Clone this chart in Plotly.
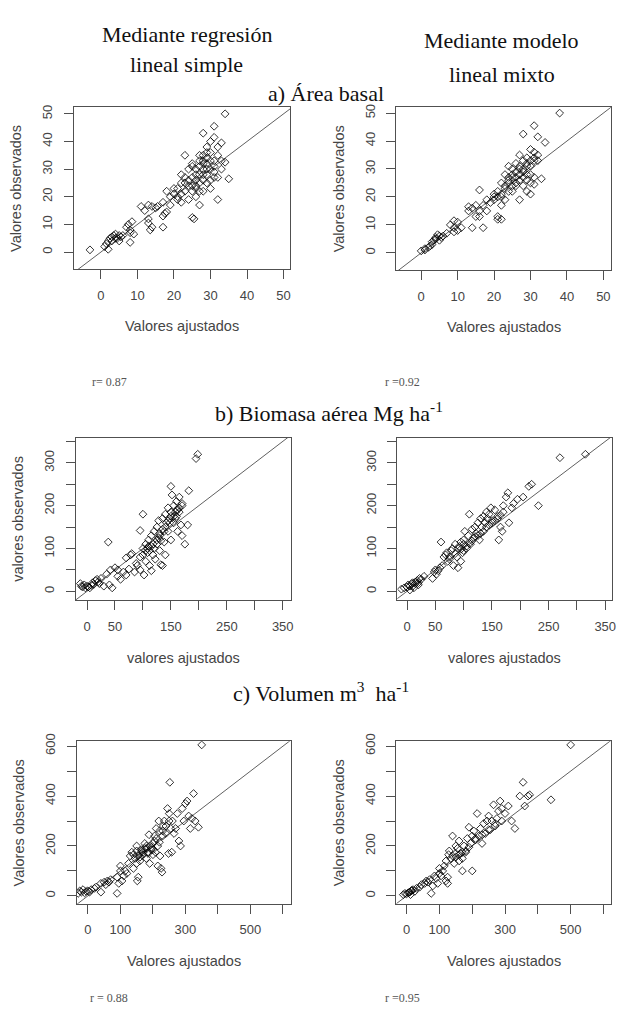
import plotly.graph_objects as go

W, H = 619, 1012

# a) Area basal - fitted vs observed
area_rls_fit = [-3, 1, 1.5, 2, 2, 2.5, 3, 3, 3.5, 4,
                4, 4.5, 5, 5, 5.5, 6, 7, 7.5, 8, 8,
                8.5, 8, 9, 11, 12, 13, 13, 13.5, 13, 14,
                15, 15.5, 14, 17, 17, 17.5, 18, 17, 18, 19,
                19, 20, 20, 21, 21, 22, 22, 22, 23, 23,
                23, 24, 24, 24, 25, 25.5, 25, 25, 25, 25,
                26, 26, 26, 26, 27, 27, 27, 27, 27, 28,
                28, 28, 28, 28, 28, 29, 29, 29, 29, 29,
                30, 30, 30, 30, 30, 31, 31, 31, 31, 31,
                32, 32, 32, 32, 33, 33, 34, 34, 35, 33,
                31, 24, 26, 27, 28, 29, 30, 23, 22, 21,
                25, 26, 27, 28, 29]
area_rls_obs = [0.8, 2, 3, 1, 4, 5, 4, 5.5, 6, 5,
                6.5, 5, 6, 4, 5.5, 6, 9, 10, 8, 7,
                11, 3.5, 6.5, 16.5, 15, 17, 12, 8, 10.5, 9,
                16, 16.5, 16.5, 9, 13, 14, 14.5, 18, 22, 20,
                17, 23, 21, 20, 23, 28, 25, 18, 35, 27,
                22, 19, 24, 30, 12.5, 12, 27, 31, 32, 22,
                30, 20, 26, 23, 17, 33, 35, 25, 28, 43,
                30, 33, 35, 22, 26, 28, 32, 38, 25, 34,
                30, 26, 36, 23, 40, 45.5, 41.5, 33, 29, 27,
                27, 19, 38, 35, 39.5, 30, 50, 32.5, 26.5, 33,
                31, 26, 28, 31, 32, 30, 33, 25, 21, 19,
                24, 24, 22, 28, 36]
area_lmm_fit = [0, 1, 1, 2, 3, 3, 4, 4, 5, 5,
                5.5, 6, 4.5, 3.5, 2.5, 8, 9, 9, 10, 10,
                9, 11, 7, 13, 13, 14, 14, 15, 15, 16,
                16, 16, 17, 17, 18, 18, 20, 20, 20, 21,
                21, 21, 22, 22, 22, 22, 23, 23, 23, 24,
                24, 24, 25, 25, 25, 26, 26, 26, 27, 27,
                27, 27, 27, 28, 28, 28, 28, 29, 29, 29,
                29, 30, 30, 30, 30, 31, 31, 31, 31, 32,
                32, 32, 33, 34, 38, 24, 25, 26, 27, 28,
                29, 30, 31, 23, 22, 26, 28, 29, 30, 31,
                19, 21, 24, 25]
area_lmm_obs = [0.7, 1, 1.5, 2, 3, 4, 5, 5.5, 6, 4.5,
                5.5, 6, 6.5, 4.5, 2.5, 10, 9, 11.5, 8, 11,
                7.5, 9, 7, 15, 16.5, 9, 16, 13, 17, 22.5,
                15, 13, 9, 17, 15, 19, 20, 19, 21, 13,
                12, 22, 25, 20, 12, 17, 28, 19, 24, 31,
                26, 22, 22, 27, 30, 25, 29, 32, 35, 19,
                28, 30, 26, 42.5, 33, 27, 24, 31, 28, 22,
                34, 21, 25, 37, 33, 45.5, 36, 27, 24.5, 41.5,
                35, 33, 26.5, 39.5, 50, 27, 28, 27, 31, 30,
                32, 31, 34, 23, 21, 24, 29, 26, 28, 33,
                18, 20, 25, 24]

# b) Biomasa aerea
bio_rls_fit = [-12, -10, -8, -5, -3, 0, 2, 5, 8, 10,
               12, 15, 18, 20, 22, 25, 30, 35, 40, 38,
               45, 42, 50, 55, 55, 60, 65, 70, 70, 75,
               78, 80, 85, 90, 95, 95, 100, 100, 100, 102,
               105, 105, 108, 110, 110, 112, 115, 115, 118, 120,
               120, 122, 125, 125, 128, 130, 130, 132, 135, 135,
               135, 138, 140, 140, 142, 145, 145, 148, 150, 150,
               150, 152, 155, 155, 158, 160, 160, 162, 162, 165,
               165, 168, 170, 170, 175, 180, 182, 195, 198, 112,
               118, 125, 130, 140, 145, 150, 155, 160, 105, 95,
               88, 108, 115, 128, 138, 148, 158, 165, 170, 132]
bio_rls_obs = [18, 12, 10, 15, 8, 12, 10, 8, 14, 20,
               16, 25, 28, 22, 18, 30, 12, 40, 15, 115,
               8, 50, 55, 35, 50, 28, 45, 38, 78, 52,
               85, 88, 45, 60, 50, 142, 180, 85, 100, 38,
               110, 70, 90, 120, 105, 60, 48, 130, 85, 100,
               140, 75, 150, 110, 165, 95, 130, 62, 60, 170,
               145, 115, 180, 85, 160, 195, 140, 170, 245, 175,
               120, 225, 200, 160, 185, 210, 175, 140, 190, 220,
               195, 155, 200, 130, 110, 155, 235, 310, 320, 95,
               110, 120, 135, 150, 165, 185, 175, 190, 95, 80,
               65, 100, 105, 125, 140, 160, 170, 185, 205, 118]
bio_lmm_fit = [-10, -5, 0, 2, 5, 8, 10, 12, 15, 18,
               20, 22, 25, 30, 45, 48, 50, 52, 55, 58,
               60, 62, 65, 68, 70, 72, 75, 78, 80, 82,
               85, 88, 90, 92, 95, 95, 98, 100, 102, 105,
               108, 110, 112, 115, 118, 120, 122, 125, 128, 130,
               132, 135, 138, 140, 142, 145, 148, 150, 155, 160,
               162, 165, 168, 170, 175, 178, 180, 185, 188, 195,
               205, 215, 220, 232, 270, 315, 85, 95, 105, 110,
               115, 120, 125, 130, 135, 140, 145, 150, 155, 160,
               165, 170, 10, 15, 20, 5, 90, 100, 75, 100]
bio_lmm_obs = [5, 8, 10, 15, 12, 18, 20, 8, 22, 25,
               15, 30, 28, 35, 30, 45, 50, 40, 48, 55,
               115, 60, 80, 85, 90, 70, 75, 95, 100, 60,
               110, 80, 55, 105, 115, 70, 90, 120, 140, 100,
               130, 180, 110, 145, 125, 150, 135, 160, 120, 170,
               150, 175, 160, 185, 170, 180, 195, 165, 190, 175,
               120, 150, 140, 200, 220, 230, 160, 195, 205, 215,
               220, 245, 250, 200, 312, 320, 88, 98, 105, 112,
               118, 128, 130, 135, 140, 150, 155, 160, 165, 170,
               178, 185, 12, 18, 20, 3, 100, 95, 80, 110]

# c) Volumen
vol_rls_fit = [-30, -25, -20, -15, -10, -5, 0, 5, 10, 20,
               25, 40, 40, 50, 55, 60, 65, 70, 90, 90,
               95, 100, 100, 105, 110, 115, 120, 125, 130, 135,
               140, 145, 150, 150, 152, 155, 160, 160, 165, 170,
               175, 175, 180, 180, 185, 188, 190, 195, 200, 200,
               205, 208, 210, 215, 215, 218, 220, 222, 225, 228,
               230, 232, 235, 240, 245, 248, 250, 252, 255, 258,
               260, 265, 270, 275, 280, 285, 290, 295, 300, 305,
               310, 315, 320, 325, 330, 340, 350, 140, 150, 160,
               170, 180, 190, 200, 210, 220, 230, 240, 250, 155,
               165, 185, 195, 205]
vol_rls_obs = [10, 20, 15, 25, 12, 18, 20, 15, 25, 30,
               35, 15, 50, 55, 45, 60, 55, 65, 10, 75,
               50, 120, 100, 60, 80, 100, 90, 130, 160, 175,
               110, 150, 200, 130, 60, 75, 170, 140, 185, 165,
               210, 190, 150, 200, 175, 245, 130, 185, 165, 210,
               240, 175, 270, 120, 200, 300, 260, 160, 110, 95,
               240, 280, 300, 250, 350, 170, 330, 455, 270, 175,
               300, 250, 270, 330, 220, 200, 350, 300, 370, 380,
               320, 270, 310, 410, 300, 275, 605, 165, 180, 155,
               175, 190, 200, 185, 230, 215, 260, 280, 300, 160,
               180, 170, 195, 220]
vol_lmm_fit = [-10, -5, 0, 5, 10, 15, 20, 25, 30, 40,
               45, 55, 60, 65, 70, 75, 80, 85, 90, 95,
               100, 100, 105, 110, 115, 120, 120, 125, 125, 128,
               130, 135, 140, 140, 145, 150, 150, 155, 160, 160,
               165, 170, 170, 175, 180, 185, 190, 195, 200, 200,
               205, 210, 215, 220, 225, 230, 235, 240, 245, 250,
               255, 260, 265, 270, 275, 280, 285, 290, 300, 310,
               320, 330, 345, 355, 360, 370, 375, 440, 500, 150,
               160, 170, 180, 190, 210, 230, 250, 270, 290, 15,
               8, 12]
vol_lmm_obs = [5, 10, 8, 12, 15, 20, 25, 18, 30, 35,
               45, 50, 60, 55, 65, 10, 40, 80, 70, 50,
               110, 90, 80, 100, 120, 140, 60, 50, 75, 165,
               180, 150, 160, 240, 130, 200, 170, 190, 140, 220,
               170, 150, 100, 200, 175, 230, 275, 210, 240, 100,
               260, 230, 330, 240, 270, 210, 290, 250, 300, 320,
               265, 300, 365, 280, 310, 340, 380, 350, 330, 360,
               300, 270, 400, 455, 360, 400, 405, 385, 605, 155,
               165, 175, 180, 195, 225, 245, 265, 290, 300, 22,
               15, 5]

# tick values / labels (R drops labels that would overlap)
area_ticks = [0, 10, 20, 30, 40, 50]
area_labels = ["0", "10", "20", "30", "40", "50"]
bio_ticks = [0, 50, 100, 150, 200, 250, 300, 350]
bio_xlabels = ["0", "50", "", "150", "", "250", "", "350"]
bio_ylabels = ["0", "", "100", "", "200", "", "300", ""]
vol_ticks = [0, 100, 200, 300, 400, 500, 600]
vol_xlabels = ["0", "100", "", "300", "", "500", ""]
vol_ylabels = ["0", "", "200", "", "400", "", "600"]

r_values = ["r= 0.87", "r =0.92", "r = 0.88", "r =0.95"]

TICK_FONT = dict(family="Liberation Sans, Arial", size=13, color="#454545")
TITLE_FONT = dict(family="Liberation Sans, Arial", size=14.5, color="#454545")
SERIF = "Liberation Serif, Times New Roman"

panels = [
    dict(fit=area_rls_fit, obs=area_rls_obs, box=(74, 292, 100, 263),
         xr=[-7.5, 51.8], yr=[-6.1, 52.4], xt=area_ticks, xl=area_labels,
         yt=area_ticks, yl=area_labels,
         xtitle="Valores ajustados", ytitle="Valores observados"),
    dict(fit=area_lmm_fit, obs=area_lmm_obs, box=(399, 615, 100, 264),
         xr=[-6.8, 52.1], yr=[-6.1, 52.1], xt=area_ticks, xl=area_labels,
         yt=area_ticks, yl=area_labels,
         xtitle="Valores ajustados", ytitle="Valores observados"),
    dict(fit=bio_rls_fit, obs=bio_rls_obs, box=(76, 293, 433, 597),
         xr=[-20.6, 365], yr=[-21, 359], xt=bio_ticks, xl=bio_xlabels,
         yt=bio_ticks, yl=bio_ylabels,
         xtitle="valores ajustados", ytitle="valores observados"),
    dict(fit=bio_lmm_fit, obs=bio_lmm_obs, box=(400, 616, 433, 597),
         xr=[-17, 362], yr=[-21, 359], xt=bio_ticks, xl=bio_xlabels,
         yt=bio_ticks, yl=bio_ylabels,
         xtitle="valores ajustados", ytitle=None),
    dict(fit=vol_rls_fit, obs=vol_rls_obs, box=(77, 293, 739, 903),
         xr=[-35, 625], yr=[-32, 620], xt=vol_ticks, xl=vol_xlabels,
         yt=vol_ticks, yl=vol_ylabels,
         xtitle="Valores ajustados", ytitle="Valores observados"),
    dict(fit=vol_lmm_fit, obs=vol_lmm_obs, box=(399, 615, 739, 903),
         xr=[-31, 623], yr=[-32, 620], xt=vol_ticks, xl=vol_xlabels,
         yt=vol_ticks, yl=vol_ylabels,
         xtitle="Valores ajustados", ytitle="Valores observados"),
]


def note(text, x, y, font, angle=0):
    # annotation centred on a pixel position of the page
    return dict(x=x / W, y=1 - y / H, text=text, showarrow=False,
                font=font, textangle=angle, xref="paper", yref="paper",
                xanchor="center", yanchor="middle")


fig = go.Figure()
annotations = []

for i, p in enumerate(panels):
    n = "" if i == 0 else str(i + 1)
    x0, x1, y0, y1 = p["box"]
    axis_common = dict(
        showline=True, mirror=True, linecolor="#505050", linewidth=1,
        ticks="outside", ticklen=9, tickcolor="#505050", tickwidth=1,
        showgrid=False, zeroline=False, tickfont=TICK_FONT,
    )
    fig.update_layout({
        "xaxis" + n: dict(domain=[x0 / W, x1 / W], range=p["xr"],
                          anchor="y" + n, tickvals=p["xt"], ticktext=p["xl"],
                          ticklabelstandoff=5, **axis_common),
        "yaxis" + n: dict(domain=[1 - y1 / H, 1 - y0 / H], range=p["yr"],
                          anchor="x" + n, tickvals=p["yt"], ticktext=p["yl"],
                          tickangle=-90, ticklabelstandoff=6, **axis_common),
    })
    # 1:1 line (abline(0, 1))
    fig.add_trace(go.Scatter(
        x=[-100, 1000], y=[-100, 1000], mode="lines",
        line=dict(color="#606060", width=1),
        xaxis="x" + n, yaxis="y" + n, hoverinfo="skip", showlegend=False,
    ))
    fig.add_trace(go.Scatter(
        x=p["fit"], y=p["obs"], mode="markers",
        marker=dict(symbol="diamond-open", size=6, color="rgba(0,0,0,0.8)",
                    line=dict(width=1)),
        xaxis="x" + n, yaxis="y" + n, showlegend=False,
    ))
    cx = (x0 + x1) / 2
    annotations.append(note(p["xtitle"], cx, y1 + 58, TITLE_FONT))
    if p["ytitle"]:
        annotations.append(note(p["ytitle"], x0 - 58, (y0 + y1) / 2,
                                TITLE_FONT, angle=-90))

# headers and section titles
head_font = dict(family=SERIF, size=22, color="#111111")
texts = [
    ("Mediante regresión", 188, 27),
    ("lineal simple", 188, 57),
    ("Mediante modelo", 505, 33),
    ("lineal mixto", 505, 67),
    ("a) Área basal", 328, 86),
    ("b) Biomasa aérea Mg ha<sup>-1</sup>", 331, 407),
    ("c) Volumen m<sup>3</sup>  ha<sup>-1</sup>", 323, 689),
]
for t, x, y in texts:
    annotations.append(note(t, x, y, head_font))

r_font = dict(family=SERIF, size=12, color="#555555")
for t, (x, y) in zip(r_values, [(110, 377), (405, 377), (110, 998), (405, 998)]):
    annotations.append(note(t, x, y, r_font))

fig.update_layout(
    width=W, height=H,
    margin=dict(l=0, r=0, t=0, b=0),
    paper_bgcolor="white", plot_bgcolor="white",
    annotations=annotations,
)

fig.write_html("out.html", config={"displayModeBar": False},
               post_script="document.body.style.margin='0';")
